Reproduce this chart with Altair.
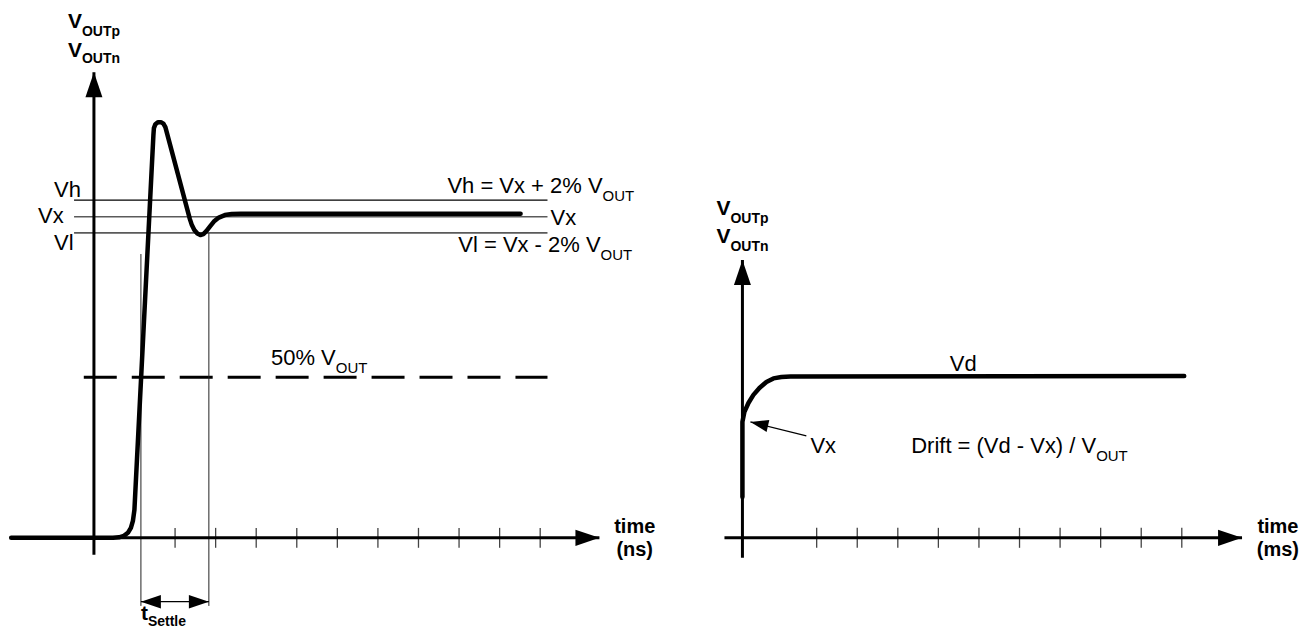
import altair as alt
import pandas as pd

FONT = "Liberation Sans"
ARROW = "M0,0L-1,-0.34L-1,0.34Z"

# ---------------- left panel: settling time (x in ns, y in units of V_OUT) ----------------
NS_DOMAIN = [-2.0936, 14.6552]
VOUT_DOMAIN = [-0.2770, 1.6496]

NS_CURVE_T = [-2.04, 0.468, 0.616, 0.739, 0.837, 0.911, 0.961, 0.998, 1.466, 1.478, 1.515, 1.576,
              1.650, 1.712, 1.761, 2.365, 2.414, 2.475, 2.549, 2.623, 2.697, 2.771, 2.857, 2.956,
              3.079, 3.227, 3.399, 3.621, 10.517]
NS_CURVE_V = [0.000, 0.000, 0.0016, 0.0062, 0.0156, 0.0311, 0.0529, 0.0871, 1.2543, 1.2761, 1.2885,
              1.2947, 1.2947, 1.2900, 1.2791, 0.9928, 0.9741, 0.9586, 0.9477, 0.9430, 0.9461,
              0.9555, 0.9695, 0.9850, 0.9975, 1.0053, 1.0087, 1.0096, 1.0096]
NS_TICKS = [2, 3, 4, 5, 6, 7, 8, 9, 10, 11]
NS_AXIS_T = [-2.04, 12.46]
NS_AXIS_V = [-0.053, 1.45]
LEVEL_NAMES = ["Vh", "Vx", "Vl"]
LEVEL_V = [1.052, 1.000, 0.950]
LEVEL_SPAN_T = [-0.49, 11.18]
HALF_V = 0.5
HALF_SPAN_T = [-0.25, 11.18]
SETTLE_T = [1.158, 2.833]
SETTLE_TOP_V = [0.884, 0.950]
SETTLE_BOTTOM_V = -0.212
SETTLE_ARROW_V = -0.199

L_LABELS = ["Vh", "Vx", "Vl", "Vx"]
L_LABEL_T = [-0.985, -1.379, -0.985, 11.256]
L_LABEL_V = [1.061, 0.980, 0.896, 0.974]
L_EQS = ["Vh = Vx + 2% V", "Vl = Vx - 2% V", "50% V"]
L_EQ_T = [12.537, 12.488, 5.961]
L_EQ_V = [1.074, 0.890, 0.538]
L_EQ_SUB = ["OUT", "OUT", "OUT"]
L_EQ_SUB_V = [1.049, 0.865, 0.5135]
L_YLAB_T = -0.296
L_YLAB_V = [1.587, 1.497]
L_YLAB_SUB = ["OUTp", "OUTn"]
L_YLAB_SUB_V = [1.562, 1.478]
L_XLAB = ["time", "(ns)"]
L_XLAB_T = 13.33
L_XLAB_V = [0.0156, -0.056]
SETTLE_LAB_T = 1.330
SETTLE_LAB_V = [-0.2552, -0.2739]

# ---------------- right panel: drift (x in ms, y in units of Vd) ----------------
MS_DOMAIN = [-1.3300, 13.9163]
VD_DOMAIN = [-0.5494, 3.2716]

MS_CURVE_T = [0.0, 0.0, 0.049, 0.148, 0.271, 0.419, 0.591, 0.764, 0.961, 1.182, 10.89]
MS_CURVE_V = [0.253, 0.716, 0.778, 0.833, 0.883, 0.926, 0.963, 0.985, 0.994, 0.997, 1.000]
MS_TICKS = [1.83, 2.83, 3.83, 4.83, 5.83, 6.83, 7.83, 8.83, 9.83, 10.83]
MS_AXIS_T = [-0.443, 12.315]
MS_AXIS_V = [-0.1235, 1.716]
POINTER_FROM = [1.576, 0.630]
POINTER_TIP = [0.197, 0.716]

R_VD = ["Vd"]
R_VD_T = [5.443]
R_VD_V = [1.031]
R_VX = ["Vx"]
R_VX_T = [1.675]
R_VX_V = [0.525]
R_EQ = ["Drift = (Vd - Vx) / V"]
R_EQ_T = [8.719]
R_EQ_V = [0.525]
R_EQ_SUB = ["OUT"]
R_EQ_SUB_V = [0.475]
R_YLAB_T = -0.296
R_YLAB_V = [1.994, 1.821]
R_YLAB_SUB = ["OUTp", "OUTn"]
R_YLAB_SUB_V = [1.944, 1.772]
R_XLAB = ["time", "(ms)"]
R_XLAB_T = 13.2
R_XLAB_V = [0.031, -0.111]


def sc(d):
    return alt.Scale(domain=d, nice=False, zero=False)


def rules(rows, xd, yd, **mk):
    return alt.Chart(pd.DataFrame(rows)).mark_rule(**mk).encode(
        x=alt.X("x0:Q", scale=sc(xd), axis=None), x2="x1:Q",
        y=alt.Y("y0:Q", scale=sc(yd), axis=None), y2="y1:Q")


def seg(x0, y0, x1, y1):
    return {"x0": x0, "y0": y0, "x1": x1, "y1": y1}


def heads(xs, ys, xd, yd, size, angle):
    df = pd.DataFrame({"x": xs, "y": ys})
    return alt.Chart(df).mark_point(shape=ARROW, filled=True, color="black", opacity=1,
                                    size=size, angle=angle, strokeWidth=0).encode(
        x=alt.X("x:Q", scale=sc(xd), axis=None), y=alt.Y("y:Q", scale=sc(yd), axis=None))


def texts(labels, xs, ys, xd, yd, **mk):
    df = pd.DataFrame({"label": labels, "x": xs, "y": ys})
    return alt.Chart(df).mark_text(font=FONT, color="black", baseline="alphabetic", **mk).encode(
        x=alt.X("x:Q", scale=sc(xd), axis=None), y=alt.Y("y:Q", scale=sc(yd), axis=None),
        text="label:N")


def curve(ts, vs, xd, yd, interp):
    df = pd.DataFrame({"t": ts, "v": vs, "i": list(range(len(ts)))})
    return alt.Chart(df).mark_line(color="black", strokeWidth=4.5, interpolate=interp,
                                   strokeCap="round", strokeJoin="round").encode(
        x=alt.X("t:Q", scale=sc(xd), axis=None), y=alt.Y("v:Q", scale=sc(yd), axis=None),
        order="i:Q")


# ----- left panel layers -----
xd, yd = NS_DOMAIN, VOUT_DOMAIN
L_TICK_H = 0.031
left_layers = [
    rules([seg(LEVEL_SPAN_T[0], LEVEL_V[0], LEVEL_SPAN_T[1], LEVEL_V[0])], xd, yd,
          color="black", strokeWidth=1.2),
    rules([seg(LEVEL_SPAN_T[0], v, LEVEL_SPAN_T[1], v) for v in LEVEL_V[1:]], xd, yd,
          color="#5a5a5a", strokeWidth=1.6),
    rules([seg(HALF_SPAN_T[0], HALF_V, HALF_SPAN_T[1], HALF_V)], xd, yd,
          color="black", strokeWidth=3, strokeDash=[33, 15]),
    rules([seg(t, top, t, SETTLE_BOTTOM_V) for t, top in zip(SETTLE_T, SETTLE_TOP_V)], xd, yd,
          color="#222222", strokeWidth=1),
    rules([seg(SETTLE_T[0], SETTLE_ARROW_V, SETTLE_T[1], SETTLE_ARROW_V)], xd, yd,
          color="black", strokeWidth=1.2),
    rules([seg(t, -L_TICK_H, t, L_TICK_H) for t in NS_TICKS], xd, yd,
          color="#444444", strokeWidth=1.3),
    rules([seg(NS_AXIS_T[0], 0, NS_AXIS_T[1], 0), seg(0, NS_AXIS_V[0], 0, NS_AXIS_V[1])], xd, yd,
          color="black", strokeWidth=3),
    curve(NS_CURVE_T, NS_CURVE_V, xd, yd, "linear"),
    heads([NS_AXIS_T[1]], [0], xd, yd, 2304, 0),
    heads([0], [NS_AXIS_V[1]], xd, yd, 2500, 270),
    heads([SETTLE_T[0]], [SETTLE_ARROW_V], xd, yd, 1600, 180),
    heads([SETTLE_T[1]], [SETTLE_ARROW_V], xd, yd, 1600, 0),
    texts(L_LABELS, L_LABEL_T, L_LABEL_V, xd, yd, align="left", fontSize=22),
    texts(L_EQS, L_EQ_T, L_EQ_V, xd, yd, align="right", fontSize=22),
    texts(L_EQ_SUB, L_EQ_T, L_EQ_SUB_V, xd, yd, align="left", fontSize=15),
    texts(["V", "V"], [L_YLAB_T] * 2, L_YLAB_V, xd, yd, align="right", fontSize=21, fontWeight="bold"),
    texts(L_YLAB_SUB, [L_YLAB_T] * 2, L_YLAB_SUB_V, xd, yd, align="left", fontSize=14, fontWeight="bold"),
    texts(L_XLAB, [L_XLAB_T] * 2, L_XLAB_V, xd, yd, align="center", fontSize=20, fontWeight="bold"),
    texts(["t"], [SETTLE_LAB_T], [SETTLE_LAB_V[0]], xd, yd, align="right", fontSize=21, fontWeight="bold"),
    texts(["Settle"], [SETTLE_LAB_T], [SETTLE_LAB_V[1]], xd, yd, align="left", fontSize=14, fontWeight="bold"),
]
left = alt.layer(*left_layers).properties(width=680, height=619)

# ----- right panel layers -----
xd, yd = MS_DOMAIN, VD_DOMAIN
R_TICK_H = 0.0617
right_layers = [
    rules([seg(t, -R_TICK_H, t, R_TICK_H) for t in MS_TICKS], xd, yd,
          color="#444444", strokeWidth=1.3),
    rules([seg(MS_AXIS_T[0], 0, MS_AXIS_T[1], 0), seg(0, MS_AXIS_V[0], 0, MS_AXIS_V[1])], xd, yd,
          color="black", strokeWidth=3),
    rules([seg(POINTER_FROM[0], POINTER_FROM[1], POINTER_TIP[0], POINTER_TIP[1])], xd, yd,
          color="black", strokeWidth=1.2),
    curve(MS_CURVE_T, MS_CURVE_V, xd, yd, "linear"),
    heads([MS_AXIS_T[1]], [0], xd, yd, 2304, 0),
    heads([0], [MS_AXIS_V[1]], xd, yd, 2500, 270),
    heads([POINTER_TIP[0]], [POINTER_TIP[1]], xd, yd, 1296, 193),
    texts(R_VD, R_VD_T, R_VD_V, xd, yd, align="center", fontSize=22),
    texts(R_VX, R_VX_T, R_VX_V, xd, yd, align="left", fontSize=22),
    texts(R_EQ, R_EQ_T, R_EQ_V, xd, yd, align="right", fontSize=22),
    texts(R_EQ_SUB, R_EQ_T, R_EQ_SUB_V, xd, yd, align="left", fontSize=15),
    texts(["V", "V"], [R_YLAB_T] * 2, R_YLAB_V, xd, yd, align="right", fontSize=21, fontWeight="bold"),
    texts(R_YLAB_SUB, [R_YLAB_T] * 2, R_YLAB_SUB_V, xd, yd, align="left", fontSize=14, fontWeight="bold"),
    texts(R_XLAB, [R_XLAB_T] * 2, R_XLAB_V, xd, yd, align="center", fontSize=20, fontWeight="bold"),
]
right = alt.layer(*right_layers).properties(width=619, height=619)

chart = (
    alt.hconcat(left, right, spacing=0)
    .resolve_scale(x="independent", y="independent")
    .properties(padding=0)
    .configure_view(stroke=None)
)

chart.save("out.html", embed_options={"renderer": "svg", "actions": False})
